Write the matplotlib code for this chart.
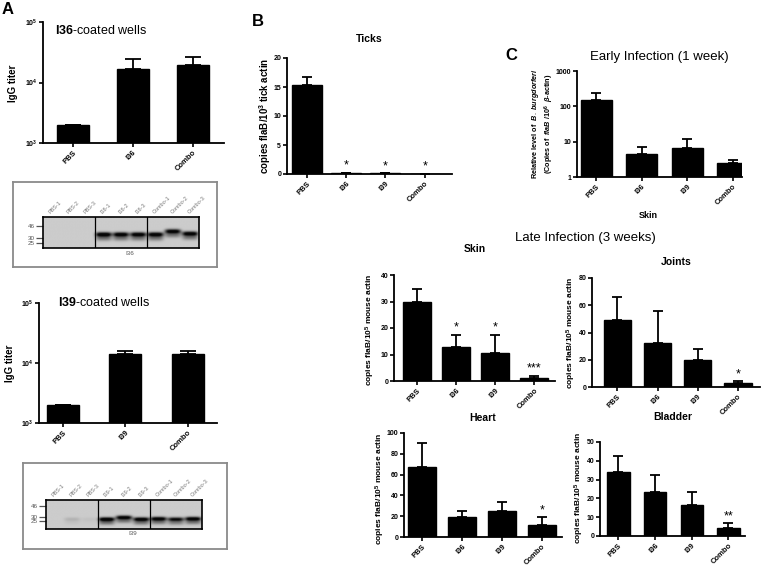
import numpy as np
import matplotlib
matplotlib.use("Agg")
import matplotlib.pyplot as plt

W, H = 763, 566

plt.rcParams["font.family"] = ["Liberation Sans", "DejaVu Sans"]
plt.rcParams["mathtext.fontset"] = "custom"
plt.rcParams["mathtext.default"] = "regular"
plt.rcParams["mathtext.rm"] = "Liberation Sans"
plt.rcParams["mathtext.bf"] = "Liberation Sans:bold"
plt.rcParams["mathtext.it"] = "Liberation Sans:italic:bold"

# ---- data ----
groups_a36 = ["PBS", "I36", "Combo"]
titer_a36 = [2000, 16500, 19500]
titer_a36_sem = [0, 7500, 6500]

groups_a39 = ["PBS", "I39", "Combo"]
titer_a39 = [2000, 14000, 14000]
titer_a39_sem = [0, 2000, 2000]

groups = ["PBS", "I36", "I39", "Combo"]

ticks_mean = [15.3, 0.12, 0.1, 0.03]
ticks_sem = [1.5, 0, 0, 0]
ticks_stars = ["", "*", "*", "*"]

early_mean = [150, 4.4, 6.8, 2.45]
early_sem = [95, 2.8, 5.2, 0.6]

skin_mean = [30, 12.9, 10.7, 1.1]
skin_sem = [4.8, 4.4, 6.6, 0.8]
skin_stars = ["", "*", "*", "***"]

joints_mean = [49.4, 32.3, 20, 2.9]
joints_sem = [16.6, 23.2, 8, 1.2]
joints_stars = ["", "", "", "*"]

heart_mean = [67.7, 18.8, 24.9, 12]
heart_sem = [22.3, 6.2, 8.9, 6.8]
heart_stars = ["", "", "", "*"]

bladder_mean = [34.1, 23.5, 16.3, 4.4]
bladder_sem = [8.3, 8.8, 7.2, 2.3]
bladder_stars = ["", "", "", "**"]

lanes_36 = ["PBS-1", "PBS-2", "PBS-3", "I36-1", "I36-2", "I36-3",
            "Combo-1", "Combo-2", "Combo-3"]
lanes_39 = ["PBS-1", "PBS-2", "PBS-3", "I39-1", "I39-2", "I39-3",
            "Combo-1", "Combo-2", "Combo-3"]
markers_kda = [46, 30, 25]
# (lane, kDa, darkness)
bands_36 = [(3, 34, 0.95), (4, 34, 0.9), (5, 34, 0.9),
            (6, 34, 0.92), (7, 38, 0.88), (8, 35, 0.9)]
bands_39 = [(1, 27, 0.1), (2, 27, 0.04), (3, 27, 0.97), (4, 29, 0.9),
            (5, 27, 0.92), (6, 27.5, 0.92), (7, 27, 0.8), (8, 27.5, 0.92)]

fig = plt.figure(figsize=(W / 100, H / 100), dpi=100)


def px_axes(l, t, r, b, **kw):
    return fig.add_axes([l / W, 1 - b / H, (r - l) / W, (b - t) / H], **kw)


def px_text(x, y, s, **kw):
    return fig.text(x / W, 1 - y / H, s, **kw)


def bar_panel(rect, names, mean, sem, xlim, width, ylim, yticks,
              yticklabels=None, log=False, stars=None, title=None,
              title_y=None, cap=3.5):
    ax = px_axes(*rect)
    x = np.arange(len(names))
    if log:
        ax.set_yscale("log")
    ax.bar(x, np.array(mean) - ylim[0], width, bottom=ylim[0],
           color="black", edgecolor="black", zorder=2)
    ax.errorbar(x, mean, yerr=[np.zeros(len(sem)), sem], fmt="none",
                ecolor="black", elinewidth=1.3, capsize=cap, capthick=1.3,
                zorder=3)
    ax.set_xlim(*xlim)
    ax.set_ylim(*ylim)
    ax.set_yticks(yticks)
    ax.minorticks_off()
    ax.set_yticklabels(yticklabels if yticklabels else [str(v) for v in yticks],
                       fontsize=5, fontweight="bold")
    ax.set_xticks(x)
    ax.set_xticklabels(names, rotation=45, ha="right", va="top",
                       rotation_mode="anchor", fontsize=5.5, fontweight="bold")
    for s in ["top", "right"]:
        ax.spines[s].set_visible(False)
    for s in ["left", "bottom"]:
        ax.spines[s].set_linewidth(1.3)
    ax.tick_params(length=3, width=1.2, pad=1.2)
    if stars:
        for xi, m, e, st in zip(x, mean, sem, stars):
            if st:
                ax.annotate(st, (xi, m + e), xytext=(0, 1),
                            textcoords="offset points", ha="center",
                            va="bottom", fontsize=9)
    if title:
        px_text((rect[0] + rect[2]) / 2, title_y, title, ha="center",
                va="center", fontsize=7.5, fontweight="bold")
    return ax


def blot(box, inner, lanes, bands, y_range, under):
    bx = px_axes(*box)
    bx.set_xticks([])
    bx.set_yticks([])
    for s in bx.spines.values():
        s.set_color("#8a8a8a")
        s.set_linewidth(1.3)
    ax = px_axes(*inner)
    xs = np.linspace(-0.5, 8.5, 360)
    ys = np.linspace(y_range[0], y_range[1], 120)
    X, Y = np.meshgrid(xs, ys)
    img = np.full(X.shape, 0.80)
    for lane, kda, dark in bands:
        c = np.log10(kda)
        prof_x = np.exp(-(np.abs(X - lane) / 0.46) ** 4)
        prof_y = np.exp(-((Y - c) / 0.035) ** 2) + \
            0.35 * np.exp(-((Y - c + 0.06) / 0.04) ** 2)
        img -= dark * prof_x * np.clip(prof_y, 0, 1)
    img = np.clip(img, 0.02, 1)
    ax.imshow(img, extent=[-0.5, 8.5, y_range[0], y_range[1]],
              origin="lower", cmap="gray", vmin=0, vmax=1, aspect="auto",
              interpolation="bilinear")
    ax.set_xlim(-0.5, 8.5)
    ax.set_ylim(*y_range)
    for xv in [2.5, 5.5]:
        ax.axvline(xv, color="black", lw=0.9)
    for s in ax.spines.values():
        s.set_linewidth(1.2)
    ax.set_yticks(np.log10(markers_kda))
    ax.set_yticklabels([str(m) for m in markers_kda], fontsize=4.5,
                       color="#555555")
    ax.tick_params(axis="y", length=5, width=0.9, color="#555555", pad=1)
    ax.xaxis.tick_top()
    ax.set_xticks(np.arange(len(lanes)))
    ax.set_xticklabels(lanes, rotation=45, ha="left", va="bottom",
                       rotation_mode="anchor", fontsize=4, color="#777777")
    ax.tick_params(axis="x", length=0, pad=2)
    ax.text(4.5, y_range[0] - 0.17 * (y_range[1] - y_range[0]), under,
            ha="center", va="center", fontsize=4.5, color="#555555")
    return ax


# ---- Panel A ----
log_ticks = [1e3, 1e4, 1e5]
log_labels = [r"$10^{3}$", r"$10^{4}$", r"$10^{5}$"]

bar_panel((43, 22, 224, 143), groups_a36, titer_a36, titer_a36_sem,
          (-0.5, 2.52), 0.53, (1e3, 1e5), log_ticks, log_labels, log=True,
          cap=6)
px_text(55, 31, r"$\mathbf{I36}$-coated wells", fontsize=9, va="center")
px_text(13, 83, "IgG titer", rotation=90, ha="center", va="center",
        fontsize=7, fontweight="bold")

bar_panel((39, 303, 217, 423), groups_a39, titer_a39, titer_a39_sem,
          (-0.38, 2.47), 0.51, (1e3, 1e5), log_ticks, log_labels, log=True,
          cap=6)
px_text(58, 303, r"$\mathbf{I39}$-coated wells", fontsize=9, va="center")
px_text(10, 363, "IgG titer", rotation=90, ha="center", va="center",
        fontsize=7, fontweight="bold")

blot((13, 182, 217, 267), (43, 217, 199, 248), lanes_36, bands_36,
     (1.322, 1.802), "I36")
blot((23, 463, 227, 549), (46, 500, 202, 529), lanes_39, bands_39,
     (1.263, 1.767), "I39")

# ---- Panel B ----
bar_panel((287, 58, 452, 174), groups, ticks_mean, ticks_sem,
          (-0.5, 3.69), 0.76, (0, 20), [0, 5, 10, 15, 20],
          stars=ticks_stars, title="Ticks", title_y=39)
px_text(265, 116, r"copies flaB/10$^{3}$ tick actin", rotation=90,
        ha="center", va="center", fontsize=7, fontweight="bold")

# ---- Panel C ----
bar_panel((577, 71, 742, 177), groups, early_mean, early_sem,
          (-0.42, 3.2), 0.68, (1, 1000), [1, 10, 100, 1000], log=True)
px_text(659, 57, "Early Infection (1 week)", ha="center", va="center",
        fontsize=9.5)
px_text(648, 215, "Skin", ha="center", va="center", fontsize=6.5,
        fontweight="bold")
px_text(543, 124, "Relative level of  $\\mathit{B.\\ burgdorferi}$\n"
        "(Copies of  $\\mathit{flaB}$ /10$^{6}$  $\\mathit{\u03b2}$-actin)",
        rotation=90, ha="center", va="center", fontsize=5.2,
        fontweight="bold", linespacing=1.3)

px_text(585, 238, "Late Infection (3 weeks)", ha="center", va="center",
        fontsize=9.5)

mouse_label = r"copies flaB/10$^{5}$ mouse actin"

bar_panel((394, 275, 555, 381), groups, skin_mean, skin_sem,
          (-0.59, 3.53), 0.72, (0, 40), [0, 10, 20, 30, 40],
          stars=skin_stars, title="Skin", title_y=249)
px_text(370, 330, mouse_label, rotation=90, ha="center", va="center",
        fontsize=6, fontweight="bold")

bar_panel((592, 278, 760, 387), groups, joints_mean, joints_sem,
          (-0.63, 3.55), 0.68, (0, 80), [0, 20, 40, 60, 80],
          stars=joints_stars, title="Joints", title_y=262)
px_text(571, 333, mouse_label, rotation=90, ha="center", va="center",
        fontsize=6, fontweight="bold")

bar_panel((404, 433, 562, 537), groups, heart_mean, heart_sem,
          (-0.45, 3.5), 0.72, (0, 100), [0, 20, 40, 60, 80, 100],
          stars=heart_stars, title="Heart", title_y=418)
px_text(380, 489, mouse_label, rotation=90, ha="center", va="center",
        fontsize=6, fontweight="bold")

bar_panel((600, 442, 745, 536), groups, bladder_mean, bladder_sem,
          (-0.5, 3.45), 0.61, (0, 50), [0, 10, 20, 30, 40, 50],
          stars=bladder_stars, title="Bladder", title_y=417)
px_text(579, 488, mouse_label, rotation=90, ha="center", va="center",
        fontsize=6, fontweight="bold")

# ---- panel letters ----
px_text(8, 9, "A", ha="center", va="center", fontsize=12, fontweight="bold")
px_text(258, 21, "B", ha="center", va="center", fontsize=12, fontweight="bold")
px_text(511, 55, "C", ha="center", va="center", fontsize=12, fontweight="bold")

fig.savefig("out.png", dpi=100)
